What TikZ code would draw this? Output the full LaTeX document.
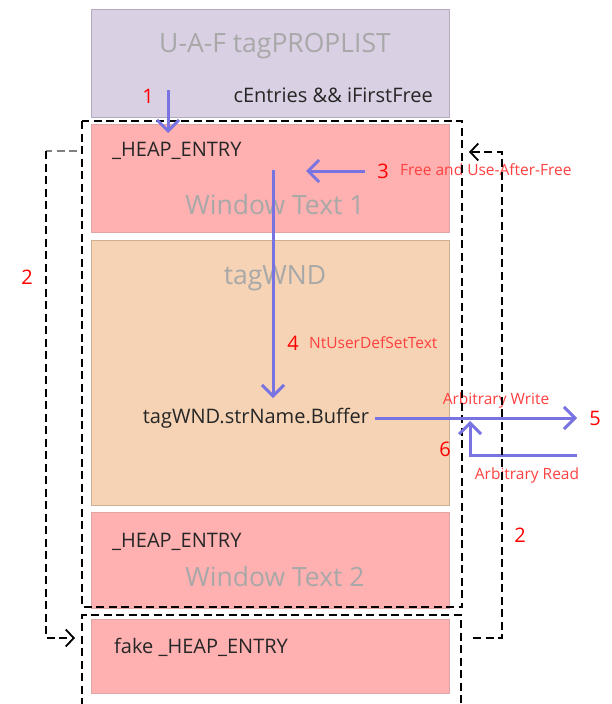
\documentclass[tikz,border=0pt]{standalone}
\usepackage{fontspec}
\setmainfont{Open Sans}
\usetikzlibrary{arrows.meta, positioning}

\definecolor{propfill}{RGB}{217,208,227}
\definecolor{propline}{RGB}{180,172,190}
\definecolor{heapfill}{RGB}{255,176,176}
\definecolor{heapline}{RGB}{225,165,165}
\definecolor{wndfill}{RGB}{245,211,180}
\definecolor{wndline}{RGB}{205,175,150}
\definecolor{flowblue}{RGB}{120,115,225}
\definecolor{numred}{RGB}{255,0,0}
\definecolor{notered}{RGB}{255,64,64}
\definecolor{ghost}{RGB}{168,168,168}

\begin{document}
\begin{tikzpicture}
  [
  x = 1pt, y = -1pt,
  % memory blocks
  chunk/.style = {rectangle, draw, line width = 0.8pt,
    inner sep = 0pt, minimum width = 358pt},
  % texts
  ghosttext/.style = {text = ghost, inner sep = 0pt,
    font = \fontsize{26.5}{30}\selectfont},
  field/.style = {text = black!85, inner sep = 0pt,
    font = \fontsize{20}{23}\selectfont},
  num/.style = {text = numred, inner sep = 0pt,
    font = \fontsize{20}{23}\selectfont},
  note/.style = {text = notered, inner sep = 0pt,
    font = \fontsize{15.5}{18}\selectfont},
  % lines
  flow/.style = {draw = flowblue, line width = 3pt,
    -{Straight Barb[length = 11pt, width = 22pt]}},
  frame/.style = {draw, line width = 1.8pt,
    dash pattern = on 8pt off 4.5pt},
  jump/.style = {frame, -{Straight Barb[length = 8pt, width = 17pt]}},
  ]

  \useasboundingbox (0,0) rectangle (612,704);

  % nodes
  \node [chunk, fill = propfill, draw = propline, minimum height = 108pt,
    anchor = north] (prop) at (270,9) {};
  \node [chunk, fill = heapfill, draw = heapline, minimum height = 108pt,
    below = 6pt of prop] (heap1) {};
  \node [chunk, fill = wndfill, draw = wndline, minimum height = 265pt,
    below = 7pt of heap1] (wnd) {};
  \node [chunk, fill = heapfill, draw = heapline, minimum height = 96pt,
    below = 7pt of wnd] (heap2) {};
  \node [chunk, fill = heapfill, draw = heapline, minimum height = 74pt,
    below = 10pt of heap2] (fake) {};

  \node [ghosttext] (proptitle) at (275,46) {U-A-F tagPROPLIST};
  \node [field, anchor = east] (entries) at (433,95) {cEntries \&\& iFirstFree};
  \node [field, anchor = west] (hdr1) at (112,151) {\_HEAP\_ENTRY};
  \node [ghosttext] (text1) at (275,205) {Window Text 1};
  \node [ghosttext] (wndtitle) at (275,278) {tagWND};
  \node [field] (buf) at (256,418) {tagWND.strName.Buffer};
  \node [field, anchor = west] (hdr2) at (112,542) {\_HEAP\_ENTRY};
  \node [ghosttext] (text2) at (275,577) {Window Text 2};
  \node [field, anchor = west] (hdr3) at (114,647) {fake \_HEAP\_ENTRY};

  % labels
  \node [num] (n1) at (148,96) {1};
  \node [num] (n2l) at (27,277) {2};
  \node [num] (n2r) at (520,535) {2};
  \node [num] (n3) at (383,171) {3};
  \node [note, anchor = west] (uaf) at (400,170) {Free and Use-After-Free};
  \node [num] (n4) at (293,343) {4};
  \node [note, anchor = west] (settext) at (309,343) {NtUserDefSetText};
  \node [note] (awrite) at (496,400) {Arbitrary Write};
  \node [num] (n5) at (595,418) {5};
  \node [num] (n6) at (445,449) {6};
  \node [note] (aread) at (527,475) {Arbitrary Read};

  % ends of connectors
  \coordinate (p1a) at (168,90);
  \coordinate (p1b) at (168,133);
  \coordinate (p3a) at (365,171);
  \coordinate (p3b) at (306,171);
  \coordinate (p4a) at (273,170);
  \coordinate (p4b) at (273,398);
  \coordinate (p5) at (577,418);
  \coordinate (p6a) at (577,455);
  \coordinate (p6b) at (470,421);
  \coordinate (jl) at (77,151);
  \coordinate (jlc) at (46,151);
  \coordinate (jlend) at (75,638);
  \coordinate (jr) at (473,638);
  \coordinate (jrend) at (469,152);

  % frames
  \path [frame] (82,121) rectangle (462,607);
  \path [frame] (82,706) -- (82,615) -- (461,615) -- (461,706);

  % path
  \path [flow] (p1a) -- (p1b);
  \path [flow] (p3a) -- (p3b);
  \path [flow] (p4a) -- (p4b);
  \path [flow] (buf.east) ++(6,0) -- (p5);
  \path [flow] (p6a) -| (p6b);
  \path [frame, draw = gray] (jl) -- (jlc);
  \path [jump] (jlc) |- (jlend);
  \path [jump] (jr) -| (502,152) -- (jrend);

\end{tikzpicture}
\end{document}
